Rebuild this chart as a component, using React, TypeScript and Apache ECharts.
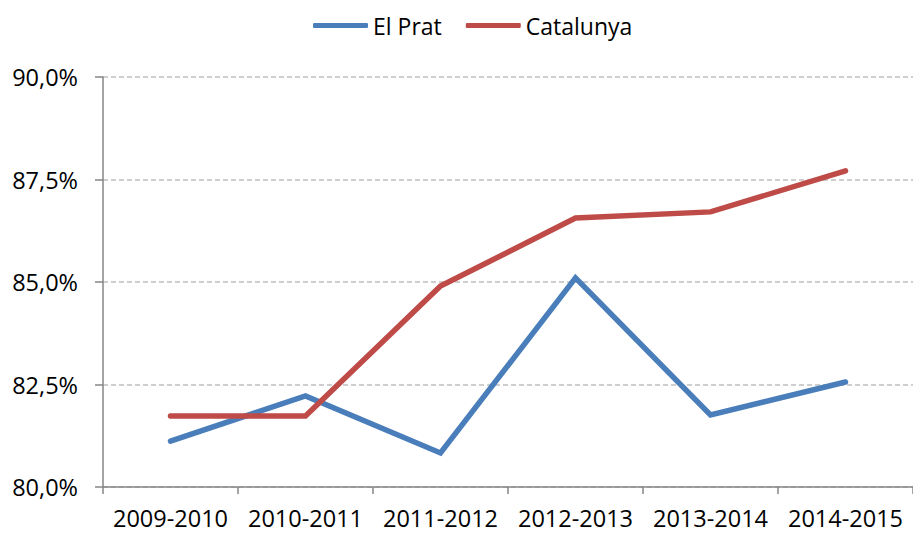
import React, { useEffect, useRef } from "react";
import * as echarts from "echarts";

const categories = ["2009-2010", "2010-2011", "2011-2012", "2012-2013", "2013-2014", "2014-2015"];
const elPrat = [81.12, 82.22, 80.83, 85.1, 81.76, 82.56];
const catalunya = [81.73, 81.73, 84.9, 86.56, 86.71, 87.71];
const seriesNames = ["El Prat", "Catalunya"];
const seriesColors = ["#4A7EBB", "#BE4B48"];

const FONT = "'Open Sans', 'Noto Sans', sans-serif";

export default function App() {
  const ref = useRef<HTMLDivElement>(null);
  useEffect(() => {
    if (!ref.current) return;
    const chart = echarts.init(ref.current, undefined, { renderer: "svg" });
    chart.setOption({
      animation: false,
      backgroundColor: "#ffffff",
      textStyle: { fontFamily: FONT },
      legend: {
        top: 9,
        left: 308,
        itemWidth: 55,
        itemHeight: 5,
        itemGap: 24,
        icon: "roundRect",
        textStyle: { fontFamily: FONT, fontSize: 23, color: "#000" },
        data: seriesNames,
      },
      grid: { left: 103, right: -1, top: 77, bottom: 47, containLabel: false },
      xAxis: {
        type: "category",
        data: categories,
        boundaryGap: true,
        axisLine: { lineStyle: { color: "#868686", width: 1.5 } },
        axisTick: { show: true, length: 7, interval: 0, lineStyle: { color: "#868686", width: 1.5 } },
        axisLabel: { fontFamily: FONT, fontSize: 23.5, color: "#000", margin: 19, interval: 0 },
        splitLine: { show: false },
      },
      yAxis: {
        type: "value",
        min: 80,
        max: 90,
        interval: 2.5,
        axisLine: { show: true, lineStyle: { color: "#868686", width: 1.5 } },
        axisTick: { show: true, length: 8, lineStyle: { color: "#868686", width: 1.5 } },
        axisLabel: {
          fontFamily: FONT,
          fontSize: 23.5,
          color: "#000",
          margin: 25,
          formatter: (v: number) => v.toFixed(1).replace(".", ",") + "%",
        },
        splitLine: { show: true, lineStyle: { color: "#BFBFBF", type: [5, 3], width: 1.5 } },
      },
      series: [
        {
          name: seriesNames[0],
          type: "line",
          data: elPrat,
          symbol: "none",
          lineStyle: { color: seriesColors[0], width: 5.5, cap: "round", join: "miter" },
          itemStyle: { color: seriesColors[0] },
        },
        {
          name: seriesNames[1],
          type: "line",
          data: catalunya,
          symbol: "none",
          lineStyle: { color: seriesColors[1], width: 5.5, cap: "round", join: "miter" },
          itemStyle: { color: seriesColors[1] },
        },
      ],
    });
    return () => chart.dispose();
  }, []);
  return <div ref={ref} style={{ width: 913, height: 534, position: "absolute", left: 0, top: 0 }} />;
}
